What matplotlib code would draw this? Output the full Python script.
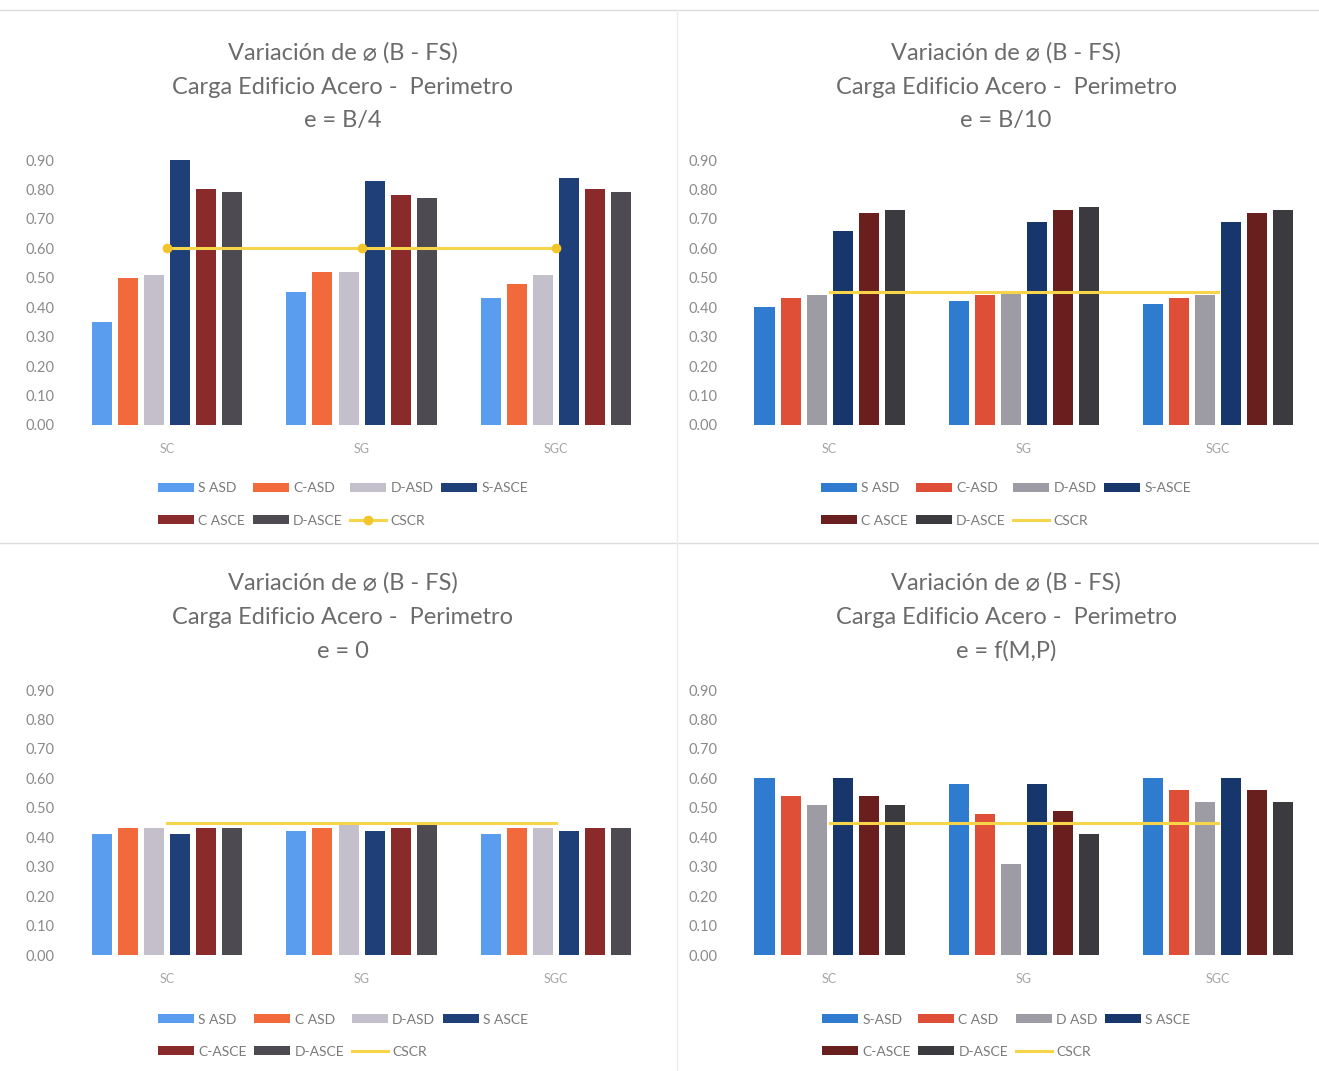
import matplotlib
matplotlib.use("Agg")
import matplotlib.pyplot as plt
import numpy as np
from matplotlib.lines import Line2D

plt.rcParams['font.family'] = ['Lato', 'DejaVu Sans']

categories = ["SC", "SG", "SGC"]
series = ["S ASD", "C-ASD", "D-ASD", "S-ASCE", "C ASCE", "D-ASCE"]

# e = B/4
b4_s_asd = [0.35, 0.45, 0.43]
b4_c_asd = [0.50, 0.52, 0.48]
b4_d_asd = [0.51, 0.52, 0.51]
b4_s_asce = [0.90, 0.83, 0.84]
b4_c_asce = [0.80, 0.78, 0.80]
b4_d_asce = [0.79, 0.77, 0.79]
b4_cscr = [0.60, 0.60, 0.60]

# e = B/10
b10_s_asd = [0.40, 0.42, 0.41]
b10_c_asd = [0.43, 0.44, 0.43]
b10_d_asd = [0.44, 0.45, 0.44]
b10_s_asce = [0.66, 0.69, 0.69]
b10_c_asce = [0.72, 0.73, 0.72]
b10_d_asce = [0.73, 0.74, 0.73]
b10_cscr = [0.45, 0.45, 0.45]

# e = 0
e0_s_asd = [0.41, 0.42, 0.41]
e0_c_asd = [0.43, 0.43, 0.43]
e0_d_asd = [0.43, 0.44, 0.43]
e0_s_asce = [0.41, 0.42, 0.42]
e0_c_asce = [0.43, 0.43, 0.43]
e0_d_asce = [0.43, 0.44, 0.43]
e0_cscr = [0.45, 0.45, 0.45]

# e = f(M,P)
mp_s_asd = [0.60, 0.58, 0.60]
mp_c_asd = [0.54, 0.48, 0.56]
mp_d_asd = [0.51, 0.31, 0.52]
mp_s_asce = [0.60, 0.58, 0.60]
mp_c_asce = [0.54, 0.49, 0.56]
mp_d_asce = [0.51, 0.41, 0.52]
mp_cscr = [0.45, 0.45, 0.45]

y_ticks = [0.0, 0.1, 0.2, 0.3, 0.4, 0.5, 0.6, 0.7, 0.8, 0.9]

colors_light = ["#5a9ced", "#f26a3b", "#c4c0cb", "#1f3f78", "#8a2a2a", "#4d4b51"]
colors_dark = ["#2f7bd0", "#df4f37", "#9d9ca5", "#17366b", "#6a1f1f", "#3b3a3f"]
cscr_color = "#f6d54a"

panels = [
    dict(sub="e = B/4", left=0.0531, bottom=0.6032, cx=343,
         data=[b4_s_asd, b4_c_asd, b4_d_asd, b4_s_asce, b4_c_asce, b4_d_asce],
         cscr=b4_cscr, colors=colors_light, marker=True, legy=470,
         labels=["S ASD", "C-ASD", "D-ASD", "S-ASCE", "C ASCE", "D-ASCE"]),
    dict(sub="e = B/10", left=0.5553, bottom=0.6032, cx=1006,
         data=[b10_s_asd, b10_c_asd, b10_d_asd, b10_s_asce, b10_c_asce, b10_d_asce],
         cscr=b10_cscr, colors=colors_dark, marker=False, legy=470,
         labels=["S ASD", "C-ASD", "D-ASD", "S-ASCE", "C ASCE", "D-ASCE"]),
    dict(sub="e = 0", left=0.0531, bottom=0.1083, cx=343,
         data=[e0_s_asd, e0_c_asd, e0_d_asd, e0_s_asce, e0_c_asce, e0_d_asce],
         cscr=e0_cscr, colors=colors_light, marker=False, legy=1001,
         labels=["S ASD", "C ASD", "D-ASD", "S ASCE", "C-ASCE", "D-ASCE"]),
    dict(sub="e = f(M,P)", left=0.5553, bottom=0.1083, cx=1006,
         data=[mp_s_asd, mp_c_asd, mp_d_asd, mp_s_asce, mp_c_asce, mp_d_asce],
         cscr=mp_cscr, colors=colors_dark, marker=False, legy=1001,
         labels=["S-ASD", "C ASD", "D ASD", "S ASCE", "C-ASCE", "D-ASCE"]),
]

W, H = 1319, 1071
fig = plt.figure(figsize=(W / 100, H / 100), dpi=100)
fig.patch.set_facecolor("white")

step = 0.134
width = 0.103
x = np.arange(len(categories))
title_color = "#6b6b6b"
tick_color = "#8a8a8a"

for p in panels:
    ax = fig.add_axes([p["left"], p["bottom"], 0.442, 0.2474])
    handles = []
    for i, (vals, col, lab) in enumerate(zip(p["data"], p["colors"], p["labels"])):
        bars = ax.bar(x + (i - 2.5) * step, vals, width=width, color=col, label=lab)
        handles.append(bars)
    if p["marker"]:
        ln, = ax.plot(x, p["cscr"], color=cscr_color, lw=2.2, marker="o", ms=6,
                      mfc="#f2c52a", mec="#f2c52a", label="CSCR")
    else:
        ln, = ax.plot(x, p["cscr"], color=cscr_color, lw=2.2, label="CSCR")
    handles.append(ln)

    ax.set_xlim(-0.5, 2.5)
    ax.set_ylim(0, 0.9)
    ax.set_yticks(y_ticks)
    ax.set_yticklabels([f"{v:.2f}" for v in y_ticks])
    ax.set_xticks(x)
    ax.set_xticklabels(categories)
    for s in ax.spines.values():
        s.set_visible(False)
    ax.tick_params(axis="y", length=0, pad=11, labelsize=10.5, labelcolor=tick_color)
    ax.tick_params(axis="x", length=0, pad=13, labelsize=9, labelcolor="#a5a5a5")

    # three-line title centred over the panel
    cxf = p["cx"] / W
    top_px = 53 if p["bottom"] > 0.5 else 583
    lines = ["Variación de \u2300 (B - FS)", "Carga Edificio Acero -  Perimetro", p["sub"]]
    for k, t in enumerate(lines):
        fig.text(cxf, 1 - (top_px + k * 34) / H, t, ha="center", va="center",
                 fontsize=17, color=title_color)

    # legend, row-major over four columns
    labels = p["labels"] + ["CSCR"]
    order = [0, 4, 1, 5, 2, 6, 3]
    fig.legend([handles[j] for j in order], [labels[j] for j in order],
               loc="upper center", bbox_to_anchor=(cxf, 1 - p["legy"] / H),
               ncol=4, frameon=False, fontsize=10, handlelength=2.6,
               handleheight=0.6, handletextpad=0.3, columnspacing=0.55,
               labelspacing=1.45, labelcolor="#7a7a7a")

# panel separators
sep = "#dcdcdc"
fig.add_artist(Line2D([0, 1], [1 - 10 / H, 1 - 10 / H], color=sep, lw=1))
fig.add_artist(Line2D([0, 1], [1 - 543 / H, 1 - 543 / H], color=sep, lw=1))
fig.add_artist(Line2D([677 / W, 677 / W], [0, 1 - 10 / H], color="#ececec", lw=1))

fig.savefig("out.png", dpi=100, facecolor="white")
